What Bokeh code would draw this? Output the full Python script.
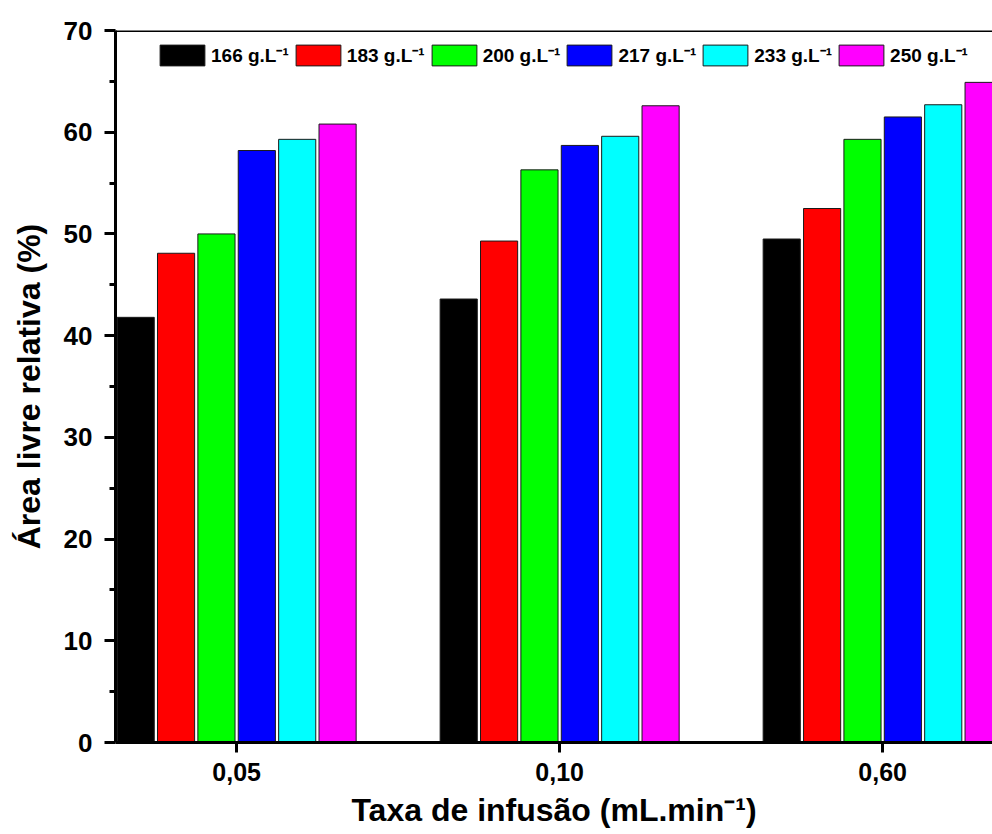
from bokeh.plotting import figure
from bokeh.models import (ColumnDataSource, Legend, LegendItem, FixedTicker,
                          Range1d, Span)
from bokeh.transform import dodge
from bokeh.embed import file_html
from bokeh.resources import INLINE

# ---- data ----
rates = ["0,05", "0,10", "0,60"]
rate_pos = [0, 1, 2]
series_labels = ["166 g.L\u207b\u00b9", "183 g.L\u207b\u00b9", "200 g.L\u207b\u00b9",
                 "217 g.L\u207b\u00b9", "233 g.L\u207b\u00b9", "250 g.L\u207b\u00b9"]
series_keys = ["c166", "c183", "c200", "c217", "c233", "c250"]
colors = ["#000000", "#FF0000", "#00FF00", "#0000FF", "#00FFFF", "#FF00FF"]
c166 = [41.8, 43.6, 49.5]
c183 = [48.1, 49.3, 52.5]
c200 = [50.0, 56.3, 59.3]
c217 = [58.2, 58.7, 61.5]
c233 = [59.3, 59.6, 62.7]
c250 = [60.8, 62.6, 64.9]
y_ticks = [0, 10, 20, 30, 40, 50, 60, 70]
y_minor = [5, 15, 25, 35, 45, 55, 65]

src = ColumnDataSource(dict(x=rate_pos, c166=c166, c183=c183, c200=c200,
                            c217=c217, c233=c233, c250=c250))

FONT = "Liberation Sans"

p = figure(width=992, height=834, output_backend="svg", toolbar_location=None,
           x_range=Range1d(-0.375, 2.34), y_range=Range1d(0, 70),
           min_border_left=115, min_border_right=0, min_border_top=30,
           min_border_bottom=92)
p.outline_line_color = None
p.xgrid.visible = False
p.ygrid.visible = False
p.background_fill_color = "white"
p.border_fill_color = "white"

pitch = 0.125
bw = 0.115
items = []
for i, (k, lab, col) in enumerate(zip(series_keys, series_labels, colors)):
    r = p.vbar(x=dodge("x", (i - 2.5) * pitch), top=k, bottom=0, width=bw,
               source=src, fill_color=col, line_color="#1a1a1a", line_width=1)
    items.append(LegendItem(label=lab, renderers=[r]))

# top frame line
p.add_layout(Span(location=70, dimension="width", line_color="black", line_width=3))

# axes
for ax in (p.xaxis[0], p.yaxis[0]):
    ax.axis_line_width = 3
    ax.major_tick_line_width = 3
    ax.minor_tick_line_width = 3
    ax.major_tick_in = 0
    ax.minor_tick_in = 0
    ax.major_label_text_font = FONT
    ax.major_label_text_font_style = "bold"
    ax.major_label_text_font_size = "25px"
    ax.major_label_text_color = "black"
    ax.axis_label_text_font = FONT
    ax.axis_label_text_font_style = "bold"
    ax.axis_label_text_font_size = "32px"
    ax.axis_label_text_color = "black"

p.xaxis.ticker = FixedTicker(ticks=rate_pos)
p.xaxis.major_label_overrides = {pos: lab for pos, lab in zip(rate_pos, rates)}
p.xaxis.major_tick_out = 10
p.xaxis.minor_tick_out = 0
p.xaxis.major_label_standoff = 10
p.xaxis.axis_label = "Taxa de infusão (mL.min\u207b\u00b9)"
p.xaxis.axis_label_standoff = 8

p.yaxis.ticker = FixedTicker(ticks=y_ticks, minor_ticks=y_minor)
p.yaxis.major_label_text_font_size = "26px"
p.yaxis.major_tick_out = 11
p.yaxis.minor_tick_out = 6
p.yaxis.major_label_standoff = 12
p.yaxis.axis_label = "Área livre relativa (%)"
p.yaxis.axis_label_standoff = 14

legend = Legend(items=items, orientation="horizontal", location=(39, 674),
                background_fill_alpha=0, border_line_color=None,
                padding=0, margin=0, glyph_width=56, glyph_height=26,
                label_standoff=1, spacing=1,
                label_text_font=FONT, label_text_font_style="bold",
                label_text_font_size="19px", label_text_color="black")
p.add_layout(legend)

open("out.html", "w").write(file_html(p, INLINE))
